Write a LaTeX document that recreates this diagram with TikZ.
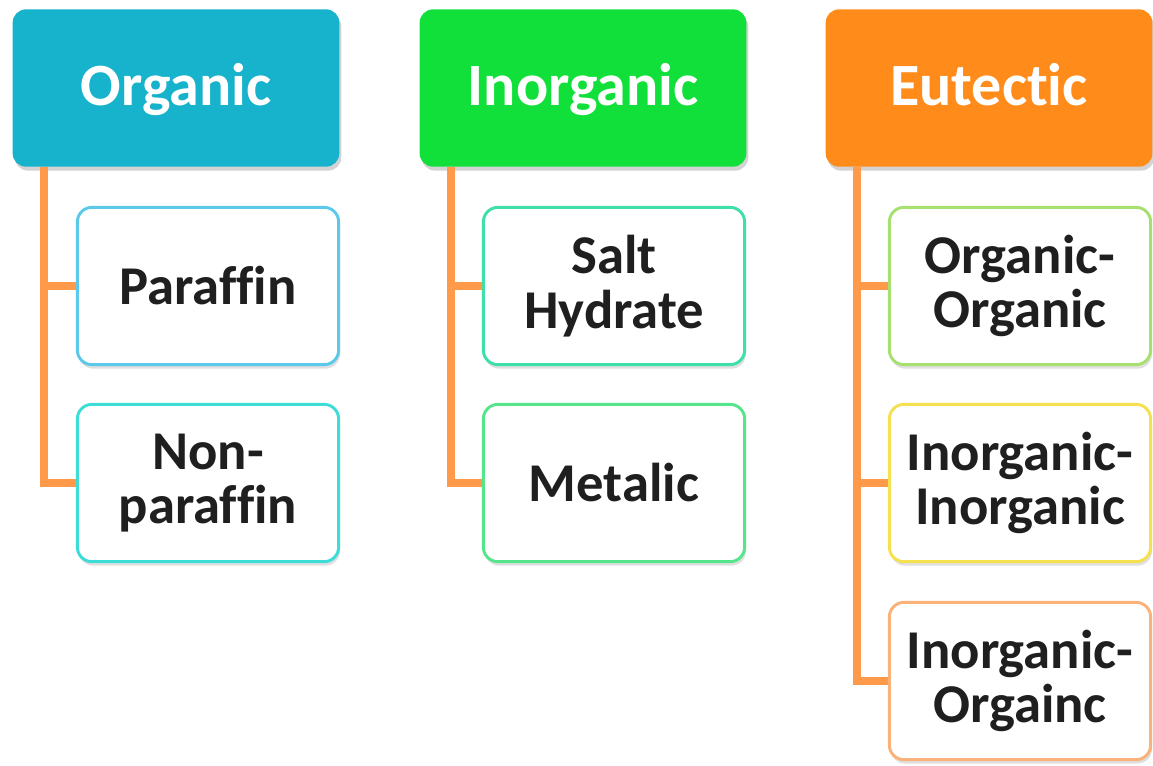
\documentclass[tikz,border=0pt]{standalone}
\usepackage{fontspec}
\setmainfont{Carlito}[Ligatures=NoCommon]
\usetikzlibrary{shadows}

% colours of the three groups
\definecolor{orgblue}{RGB}{23,178,204}
\definecolor{inogreen}{RGB}{18,224,58}
\definecolor{eutorange}{RGB}{255,140,26}
\definecolor{linkorange}{RGB}{255,154,74}
% colours of the box borders
\definecolor{parcol}{RGB}{92,201,234}
\definecolor{noncol}{RGB}{62,220,214}
\definecolor{saltcol}{RGB}{62,224,168}
\definecolor{metcol}{RGB}{85,229,138}
\definecolor{oocol}{RGB}{168,224,112}
\definecolor{iicol}{RGB}{245,224,80}
\definecolor{iocol}{RGB}{251,178,122}

\begin{document}
\begin{tikzpicture}[x=0.75pt, y=-0.75pt,
	head/.style={rounded corners=10pt, minimum width=245pt, minimum height=118pt,
		text=white, font=\fontsize{45}{45}\selectfont\bfseries,
		text height=32pt, text depth=6.5pt,
		drop shadow={opacity=0.35, shadow xshift=1.5pt, shadow yshift=-3pt}},
	kid/.style={draw, line width=2.2pt, fill=white, rounded corners=11pt,
		minimum width=196pt, minimum height=118pt, align=center,
		text=black!88, font=\fontsize{41}{41}\selectfont\bfseries,
		drop shadow={opacity=0.25, shadow xshift=1pt, shadow yshift=-3pt}},
	link/.style={draw=linkorange, line width=6pt}]
	% fix the page size (in pixels of the reference)
	\useasboundingbox (0,0) rectangle (1153,765);
	
	% the three group headers
	\node[head, fill=orgblue] (orghd) at (176,88) {Organic};
	\node[head, fill=inogreen] (inohd) at (583,88) {Inorganic};
	\node[head, fill=eutorange] (euthd) at (989,88) {Eutectic};
	
	% boxes under Organic
	\node[kid, draw=parcol] (paraffin) at (208,286) {Paraffin};
	\node[kid, draw=noncol] (nonpar) at (208,483) {Non-\\paraffin};
	
	% boxes under Inorganic
	\node[kid, draw=saltcol] (salt) at (614,286) {Salt\\Hydrate};
	\node[kid, draw=metcol] (metalic) at (614,483) {Metalic};
	
	% boxes under Eutectic
	\node[kid, draw=oocol] (orgorg) at (1020,286) {Organic-\\Organic};
	\node[kid, draw=iicol] (inoino) at (1020,483) {Inorganic-\\Inorganic};
	\node[kid, draw=iocol] (inoorgc) at (1020,681) {Inorganic-\\Orgainc};
	
	% orange connectors: trunk down from the header, branch into each box
	\draw[link] ([xshift=24pt]orghd.south west) |- (paraffin.west);
	\draw[link] ([xshift=24pt]orghd.south west) |- (nonpar.west);
	\draw[link] ([xshift=24pt]inohd.south west) |- (salt.west);
	\draw[link] ([xshift=24pt]inohd.south west) |- (metalic.west);
	\draw[link] ([xshift=24pt]euthd.south west) |- (orgorg.west);
	\draw[link] ([xshift=24pt]euthd.south west) |- (inoino.west);
	\draw[link] ([xshift=24pt]euthd.south west) |- (inoorgc.west);
\end{tikzpicture}
\end{document}
